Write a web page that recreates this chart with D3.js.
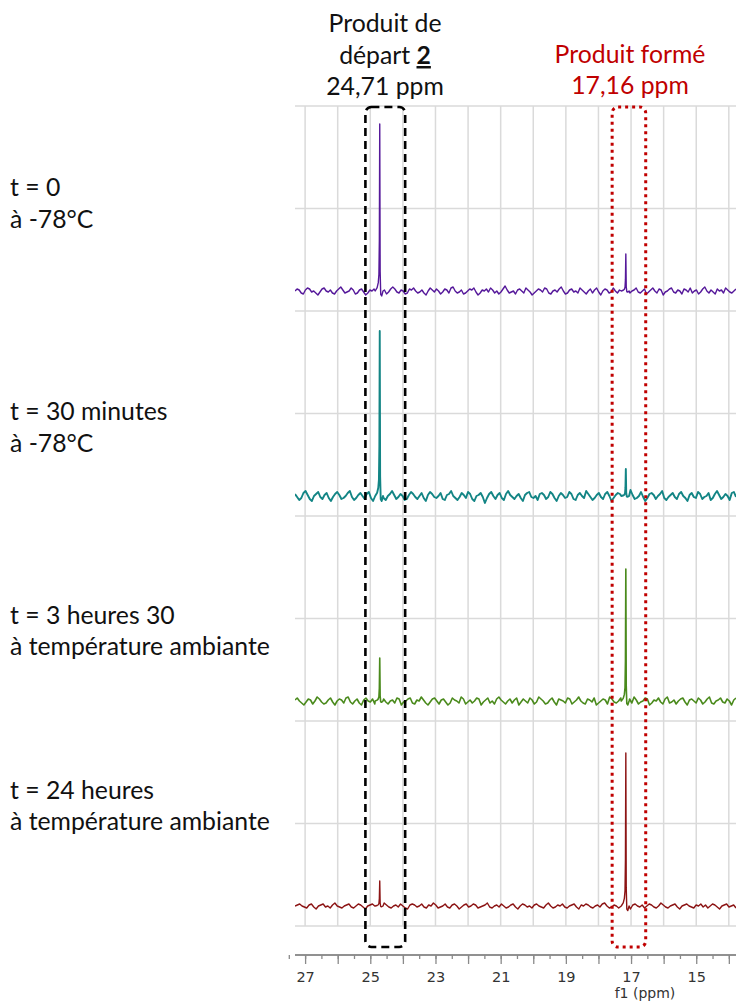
<!DOCTYPE html>
<html>
<head>
<meta charset="utf-8">
<script src="https://cdn.jsdelivr.net/npm/d3@7"></script>
<style>
html,body{margin:0;padding:0;background:#fff;}
svg{display:block;}
</style>
</head>
<body>
<svg id="chart" width="736" height="1003"></svg>
<script>
// ---------------- DATA ----------------
const seriesNames = ["t0", "t30min", "t3h30", "t24h"];
const seriesLabels = [
  ["t = 0", "à -78°C"],
  ["t = 30 minutes", "à -78°C"],
  ["t = 3 heures 30", "à température ambiante"],
  ["t = 24 heures", "à température ambiante"]
];
const startPeakPpm = 24.71;
const productPeakPpm = 17.16;
const startPeakHeights = [167, 165, 43, 25];
const productPeakHeights = [37, 27, 132, 153];
const headerStart = ["Produit de", "départ ", "2", "24,71 ppm"];
const headerProduct = ["Produit formé", "17,16 ppm"];
const axisTickLabels = [27, 25, 23, 21, 19, 17, 15];
const axisTitle = "f1 (ppm)";
const ppmRange = [27.31, 13.78];

// baseline noise (hand-read, arbitrary units) left->right
const noisePurple = [0,2,1,-2,-3,1,3,2,-1,0,-2,-4,-1,2,3,0,-1,1,-2,-3,0,2,4,1,-2,-1,0,3,1,-3,-2,1,2,-1,-4,-2,1,0,2,3,-1,-2,0,1,-3,-1,2,4,2,-1,-2,1,0,-3,-2,2,1,3,0,-2,-1,1,-2,-4,0,3,1,-1,2,0,-3,-1,2,1,-2,3,4,0,-2,-1,1,-3,-2,0,2,1,3,-1,-4,-2,1,0,2,-1,3,1,-2,0,-3,-1,2,5,1,-2,-1,0,-3,1,2,0,-2,3,1,-1,-4,-2,0,2,1,-1,3,2,-2,-3,0,1,-1,2,4,0,-3,-2,1,2,-1,0,-2,3,1,-1,-3,0,2,-2,1,3,-1,-4,0,2,1,-2,-1,3,0,-2,1,4,2,-1,-3,-2,0,1,3,-1,-2,0,2,-3,-1,1,3,0,-2,2,1,-4,-1,0,2,3,-1,-2,1,0,-3,2,1,-1,3,-2,0,1,-3,-1,2,4,0,-2,1,-1,-3,2,0,1,-2,3,1,-1,-2,0,2];
const noiseTeal = [2,-1,-4,-2,3,5,1,-3,-5,0,2,4,-1,-3,1,3,-2,-5,-1,2,4,1,-3,-2,0,3,5,-1,-4,-2,1,3,0,-3,2,4,-2,-5,-1,1,3,2,-2,-4,0,2,5,1,-3,-1,2,0,-4,-3,1,4,2,-1,-3,0,3,-2,-5,1,4,2,-1,-2,0,3,-3,-4,1,2,5,0,-2,-4,-1,3,1,-2,4,2,-3,-5,0,1,3,-1,-7,-2,2,4,0,-3,1,3,-2,-4,2,5,1,-1,-3,0,2,-2,-5,1,3,4,-1,-2,0,-4,2,3,1,-3,-1,4,2,-2,-5,0,3,1,-2,-1,4,2,-3,-4,1,3,0,-2,5,2,-1,-4,-2,1,3,-1,-3,2,4,0,-5,-2,1,3,2,-1,-4,0,3,6,1,-3,-2,0,4,-1,-5,-2,2,3,1,-3,0,2,5,-2,-4,-1,1,3,-1,-3,2,4,0,-2,-5,1,3,-1,-2,4,2,-3,-1,0,3,-4,-2,2,5,1,-3,-1,2,0,-4,3,4,-1];
const noiseGreen = [1,3,0,-2,-4,-1,2,1,-3,0,4,2,-1,-3,-2,1,3,-1,-4,0,2,1,-2,3,4,-1,-3,0,2,-2,-4,1,3,0,-1,2,-3,-2,1,4,2,-1,-3,0,1,-2,3,2,-4,-1,0,2,3,-2,-3,1,0,4,1,-2,-4,-1,2,3,0,-3,1,2,-1,-4,-2,3,1,0,-2,4,2,-3,-1,1,-2,0,3,2,-4,-1,1,3,-2,0,-3,2,4,1,-1,-3,0,2,-2,1,3,-4,-1,2,0,-2,3,1,-3,-1,4,2,0,-3,-2,1,3,-1,-4,2,1,0,-2,3,2,-3,-1,1,4,0,-2,-3,2,1,-1,3,-4,-2,0,2,1,-3,4,2,-1,-2,0,3,-3,-1,1,2,-2,4,1,-3,-1,0,3,2,-4,-2,1,0,3,-1,-3,2,4,-2,-1,1,-3,0,2,3,-1,-4,1,2,0,-2,3,1,-3,-1,2,4,-2,-3,0,1,3,-1,-2,2,0,-4,1,3];
const noiseRed = [0,1,2,0,-1,-2,1,2,-1,-3,0,1,2,-1,0,-2,1,3,0,-1,-2,0,1,2,-1,-2,0,2,1,-1,-3,0,1,2,0,-2,-1,1,3,1,-1,-2,0,1,-1,2,0,-2,-3,1,2,1,-1,0,2,-1,-2,1,0,3,1,-2,-1,0,2,-1,-2,1,2,0,-3,-1,1,2,-1,0,2,1,-2,-1,0,1,3,-1,-2,0,1,-1,2,0,-2,-1,1,2,-1,-3,0,2,1,-1,0,-2,1,2,0,-1,-2,1,3,0,-2,-1,1,0,2,-1,-2,0,1,2,-1,-3,1,0,2,1,-1,-2,0,1,-1,2,3,0,-2,-1,1,0,-2,2,1,-1,0,-3,1,2,0,-1,1,-2,0,2,1,-1,-2,0,3,1,-1,-2,0,1,2,-1,-3,0,1,2,0,-1,-2,1,0,2,-1,1,-2,0,2,1,-1,-3,0,1,2,-1,0,1,-2];
const noiseSeries = [noisePurple, noiseTeal, noiseGreen, noiseRed];

// peak profiles: [ppm offset from peak centre, fraction of peak height]
const peakProfileOffsets = [0.14, 0.08, 0.045, 0.025, 0.012, 0, -0.012, -0.03, -0.06, -0.1];
const peakProfileShape   = [0.00, 0.02, 0.05, 0.10, 0.30, 1, 0.12, -0.02, -0.03, 0.0];

// ---------------- STYLE / LAYOUT ----------------
const colors = ["#55189a", "#138585", "#4a8a1c", "#8c1414"];
const strokeW = [1.4, 1.9, 1.6, 1.4];
const W = 736, H = 1003;
const plotLeft = 295, plotRight = 736, plotTop = 106, plotBottom = 926;
const axisY = 955;
const labelFont = "Lato, 'Open Sans', sans-serif";
const labelBaselines = [[196, 228], [420, 452], [624, 655], [799, 830]];

const svg = d3.select("#chart");

const x = d3.scaleLinear().domain(ppmRange).range([plotLeft, plotRight]);
const band = d3.scaleBand().domain(seriesNames).range([plotTop, plotBottom]).paddingInner(0).paddingOuter(0);

// grid
const grid = svg.append("g").attr("class", "grid");
const hLines = [];
seriesNames.forEach(n => { hLines.push(band(n)); hLines.push(band(n) + band.bandwidth() / 2); });
hLines.push(plotBottom);
grid.selectAll("line.h").data(hLines).enter().append("line")
  .attr("class", "h")
  .attr("x1", plotLeft).attr("x2", plotRight)
  .attr("y1", d => d).attr("y2", d => d)
  .attr("stroke", "#dadada").attr("stroke-width", 1.5);
const vTicks = d3.range(27, 13, -1);
grid.selectAll("line.v").data(vTicks).enter().append("line")
  .attr("class", "v")
  .attr("x1", d => x(d)).attr("x2", d => x(d))
  .attr("y1", plotTop).attr("y2", plotBottom)
  .attr("stroke", "#dadada").attr("stroke-width", 1.5);

// spectra
svg.append("defs").append("clipPath").attr("id", "clipP")
  .append("rect").attr("x", plotLeft).attr("y", 0).attr("width", plotRight - plotLeft).attr("height", H);

seriesNames.forEach((name, i) => {
  const y = d3.scaleLinear().domain([-20, 185]).range([band(name) + band.bandwidth(), band(name)]);
  const noise = noiseSeries[i];
  const n = noise.length;
  const pts = noise.map((v, k) => [ppmRange[0] - k * (ppmRange[0] - ppmRange[1]) / (n - 1), v]);
  const peaks = [[startPeakPpm, startPeakHeights[i]], [productPeakPpm, productPeakHeights[i]]];
  const filtered = pts.filter(p => !peaks.some(pk => p[0] < pk[0] + 0.15 && p[0] > pk[0] - 0.11));
  peaks.forEach(pk => {
    peakProfileOffsets.forEach((o, j) => filtered.push([pk[0] + o, peakProfileShape[j] * pk[1]]));
  });
  filtered.sort((a, b) => b[0] - a[0]);
  const line = d3.line().x(d => x(d[0])).y(d => y(d[1]));
  svg.append("path")
    .datum(filtered)
    .attr("d", line)
    .attr("clip-path", "url(#clipP)")
    .attr("fill", "none")
    .attr("stroke", colors[i])
    .attr("stroke-width", strokeW[i])
    .attr("stroke-linejoin", "round");
});

// axis
const minorAxis = d3.axisBottom(x).tickValues(d3.range(27.5, 13.7, -0.5)).tickSize(4).tickFormat("");
const majorAxis = d3.axisBottom(x).tickValues(d3.range(27, 13.7, -1)).tickSize(9).tickPadding(8)
  .tickFormat(d => axisTickLabels.includes(d) ? d : "");
const gMinor = svg.append("g").attr("transform", `translate(0,${axisY})`).call(minorAxis);
const gMajor = svg.append("g").attr("transform", `translate(0,${axisY})`).call(majorAxis);
[gMinor, gMajor].forEach(g => {
  g.select(".domain").attr("stroke", "#8a8a8a").attr("stroke-width", 1.5)
    .attr("d", `M${plotLeft},0H${plotRight}`);
  g.selectAll(".tick line").attr("stroke", "#8a8a8a").attr("stroke-width", 1.3);
});
gMajor.selectAll(".tick text")
  .attr("font-family", "'DejaVu Sans', Verdana, sans-serif")
  .attr("font-size", 14.5).attr("fill", "#333");
svg.append("text")
  .attr("x", 645).attr("y", 998)
  .attr("text-anchor", "middle")
  .attr("font-family", "'DejaVu Sans', Verdana, sans-serif")
  .attr("font-size", 14).attr("fill", "#333")
  .text(axisTitle);

// highlight boxes
const boxTop = 107, boxBottom = 947;
svg.append("rect")
  .attr("x", x(25.15)).attr("width", x(23.93) - x(25.15))
  .attr("y", boxTop).attr("height", boxBottom - boxTop)
  .attr("rx", 6).attr("ry", 6)
  .attr("fill", "none").attr("stroke", "#000").attr("stroke-width", 2.6)
  .attr("stroke-dasharray", "8,5");
svg.append("rect")
  .attr("x", x(17.58)).attr("width", x(16.55) - x(17.58))
  .attr("y", boxTop).attr("height", boxBottom - boxTop)
  .attr("rx", 6).attr("ry", 6)
  .attr("fill", "none").attr("stroke", "#c00000").attr("stroke-width", 3)
  .attr("stroke-dasharray", "3,4");

// fit label font size to reference width
const probe = svg.append("text").attr("font-family", labelFont).attr("font-size", 20).text(seriesLabels[2][1]);
const fs = 20 * 260 / probe.node().getComputedTextLength();
probe.remove();

// left labels
seriesLabels.forEach((lines, i) => {
  lines.forEach((t, j) => {
    svg.append("text")
      .attr("x", 10).attr("y", labelBaselines[i][j])
      .attr("font-family", labelFont).attr("font-size", fs)
      .attr("fill", "#111")
      .text(t);
  });
});

// header texts
const hx1 = 385, hx2 = 630;
svg.append("text").attr("x", hx1).attr("y", 32).attr("text-anchor", "middle")
  .attr("font-family", labelFont).attr("font-size", fs).attr("fill", "#111").text(headerStart[0]);
const t2 = svg.append("text").attr("x", hx1).attr("y", 64).attr("text-anchor", "middle")
  .attr("font-family", labelFont).attr("font-size", fs).attr("fill", "#111");
t2.append("tspan").text(headerStart[1]);
t2.append("tspan").attr("font-weight", "bold").attr("text-decoration", "underline").text(headerStart[2]);
svg.append("text").attr("x", hx1).attr("y", 95).attr("text-anchor", "middle")
  .attr("font-family", labelFont).attr("font-size", fs).attr("fill", "#111").text(headerStart[3]);
svg.append("text").attr("x", hx2).attr("y", 63).attr("text-anchor", "middle")
  .attr("font-family", labelFont).attr("font-size", fs).attr("fill", "#c00000").text(headerProduct[0]);
svg.append("text").attr("x", hx2).attr("y", 94).attr("text-anchor", "middle")
  .attr("font-family", labelFont).attr("font-size", fs).attr("fill", "#c00000").text(headerProduct[1]);
</script>
</body>
</html>
